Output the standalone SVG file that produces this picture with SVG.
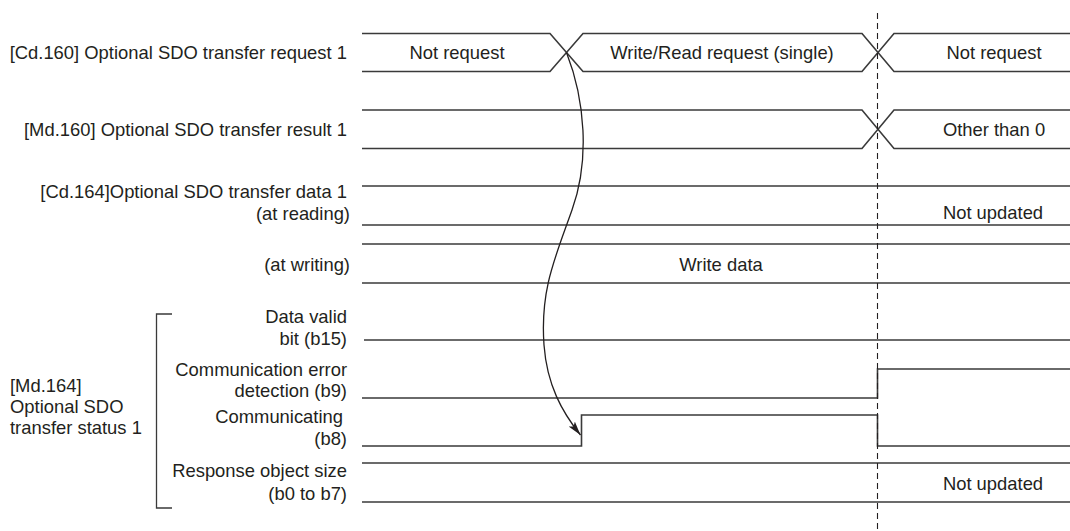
<svg xmlns="http://www.w3.org/2000/svg" width="1070" height="531" viewBox="0 0 1070 531">
<style>
  text { font-family: "Liberation Sans", Arial, sans-serif; font-size: 18.4px; fill: #231f20; }
  .r { text-anchor: end; }
  .m { text-anchor: middle; }
  .sig { fill: none; stroke: #3a3a3a; stroke-width: 1.6; stroke-linejoin: miter; }
  .brk { fill: none; stroke: #3a3a3a; stroke-width: 1.3; }
  .dash { fill: none; stroke: #231f20; stroke-width: 1.1; stroke-dasharray: 6 4; }
  .curve { fill: none; stroke: #231f20; stroke-width: 1.3; }
</style>
<defs>
  <marker id="ah" viewBox="0 0 14 8" refX="14" refY="4" markerWidth="14" markerHeight="8" markerUnits="userSpaceOnUse" orient="auto">
    <path d="M0,0 L14,4 L0,8 L3,4 z" fill="#231f20"/>
  </marker>
</defs>
<rect width="1070" height="531" fill="#ffffff"/>

<g id="row-cd160">
  <text class="r" x="347" y="59">[Cd.160] Optional SDO transfer request 1</text>
  <path class="sig" d="M362,33.5 H550 L583,71.5 H862 L894,33.5 H1070"/>
  <path class="sig" d="M362,71.5 H550 L583,33.5 H862 L894,71.5 H1070"/>
  <text class="m" x="457" y="59">Not request</text>
  <text class="m" x="722" y="59">Write/Read request (single)</text>
  <text class="m" x="994" y="59">Not request</text>
</g>

<g id="row-md160">
  <text class="r" x="347" y="135.5">[Md.160] Optional SDO transfer result 1</text>
  <path class="sig" d="M362,110 H862 L894,148.5 H1070"/>
  <path class="sig" d="M362,148.5 H862 L894,110 H1070"/>
  <text class="m" x="994" y="135.5">Other than 0</text>
</g>

<g id="row-cd164-read">
  <text class="r" x="347" y="198">[Cd.164]Optional SDO transfer data 1</text>
  <text class="r" x="350" y="220">(at reading)</text>
  <path class="sig" d="M362,186 H1070"/>
  <path class="sig" d="M362,225 H1070"/>
  <text class="m" x="993" y="219">Not updated</text>
</g>

<g id="row-cd164-write">
  <text class="r" x="350" y="271">(at writing)</text>
  <path class="sig" d="M362,244 H1070"/>
  <path class="sig" d="M362,283 H1070"/>
  <text class="m" x="721" y="271">Write data</text>
</g>

<g id="group-md164">
  <text x="10" y="392">[Md.164]</text>
  <text x="10" y="413">Optional SDO</text>
  <text x="10" y="434">transfer status 1</text>
  <path class="brk" d="M172,314 H156.5 V508 H172"/>
</g>

<g id="row-b15">
  <text class="r" x="347" y="323">Data valid</text>
  <text class="r" x="347" y="345">bit (b15)</text>
  <path class="sig" d="M364,340 H1070"/>
</g>

<g id="row-b9">
  <text class="r" x="347" y="376">Communication error</text>
  <text class="r" x="347" y="396.5">detection (b9)</text>
  <path class="sig" d="M362,398 H877.5 V369 H1070"/>
</g>

<g id="row-b8">
  <text class="r" x="343" y="423">Communicating</text>
  <text class="r" x="347" y="444.5">(b8)</text>
  <path class="sig" d="M362,446 H581.5 V415 H877.5 V446 H1070"/>
</g>

<g id="row-b0-b7">
  <text class="r" x="347" y="476.5">Response object size</text>
  <text class="r" x="347" y="499.5">(b0 to b7)</text>
  <path class="sig" d="M362,463 H1070"/>
  <path class="sig" d="M362,502 H1070"/>
  <text class="m" x="993" y="490">Not updated</text>
</g>

<g id="connectors">
  <path class="dash" d="M877.5,13 V531"/>
  <path class="curve" d="M566.5,52.5 C585,100 590,160 572,210 C555,258 540,290 544,345 C547,385 562,412 580.5,435" marker-end="url(#ah)"/>
</g>
</svg>
